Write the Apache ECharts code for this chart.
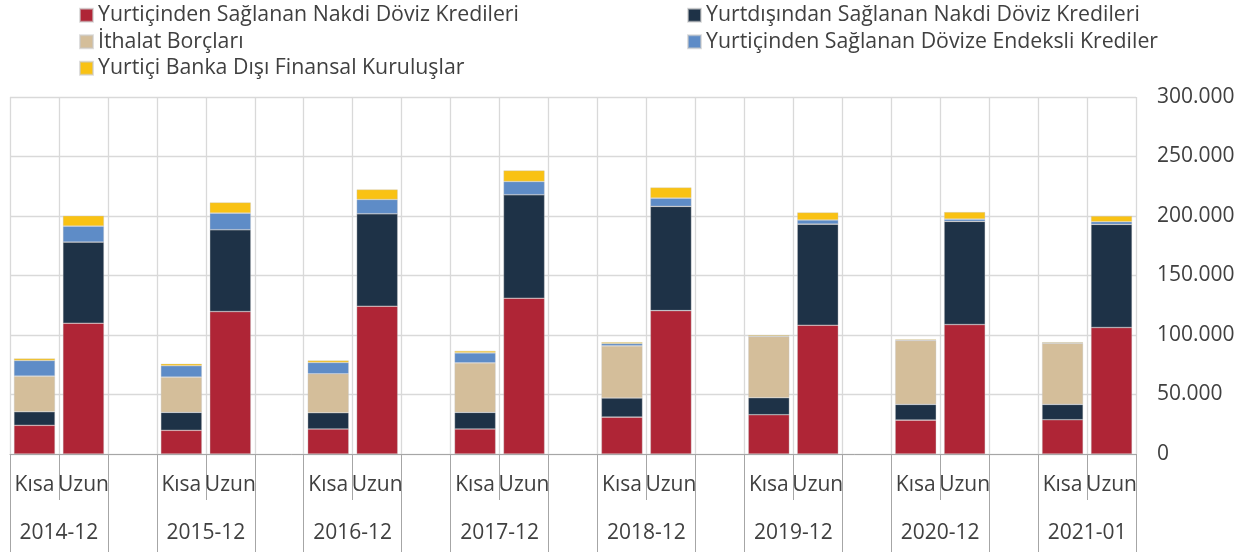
<!DOCTYPE html>
<html>
<head>
<meta charset="utf-8">
<script src="https://cdn.jsdelivr.net/npm/echarts@6/dist/echarts.min.js"></script>
<style>
  html, body { margin: 0; padding: 0; background: #fff; }
  #main { width: 1251px; height: 552px; }
</style>
</head>
<body>
<div id="main"></div>
<script>
// dönemler ve vade kırılımı
var years = ["2014-12", "2015-12", "2016-12", "2017-12", "2018-12", "2019-12", "2020-12", "2021-01"];
var vadeler = ["Kısa", "Uzun"];

// milyon USD, Kısa / Uzun
var yurticiNakdiKisa = [24.1, 19.9, 21.0, 21.0, 31.0, 33.0, 28.5, 28.8];
var yurticiNakdiUzun = [109.9, 119.7, 124.2, 130.9, 120.5, 108.2, 108.8, 106.3];
var yurtdisiNakdiKisa = [11.4, 15.1, 13.7, 14.0, 16.0, 14.3, 13.2, 12.9];
var yurtdisiNakdiUzun = [68.2, 68.8, 77.7, 87.0, 87.6, 85.0, 86.7, 86.7];
var ithalatKisa = [29.9, 29.6, 32.7, 41.6, 43.9, 51.4, 53.7, 51.4];
var ithalatUzun = [0, 0, 0, 0, 0, 0, 0, 0];
var endeksliKisa = [13.2, 9.5, 9.5, 8.4, 1.9, 0.3, 0.2, 0.2];
var endeksliUzun = [13.4, 13.9, 12.0, 11.1, 6.9, 3.4, 1.9, 2.2];
var bankaDisiKisa = [1.7, 1.7, 1.7, 1.7, 1.2, 0.8, 0.6, 0.7];
var bankaDisiUzun = [8.7, 9.0, 8.4, 9.3, 9.0, 6.4, 5.9, 4.8];

var seriesNames = [
    "Yurtiçinden Sağlanan Nakdi Döviz Kredileri",
    "Yurtdışından Sağlanan Nakdi Döviz Kredileri",
    "İthalat Borçları",
    "Yurtiçinden Sağlanan Dövize Endeksli Krediler",
    "Yurtiçi Banka Dışı Finansal Kuruluşlar"
];
var colors = ["#AF2536", "#1E3247", "#D4BE9A", "#5E8CC7", "#F9C214"];

var fontFamily = "Open Sans";
var textColor = "#404040";

// kategori ekseni: Kısa, Uzun, boşluk, ...
var cats = [];
years.forEach(function (y, i) {
    cats.push(vadeler[0], vadeler[1]);
    if (i < years.length - 1) cats.push("");
});

// alt seviye (yıllar) için yarım kategori noktaları
var yearPoints = [];
for (var i = 0; i <= cats.length * 2; i++) {
    yearPoints.push(i % 6 === 2 ? years[Math.floor(i / 6)] : "");
}

function build(kisa, uzun) {
    var out = [];
    years.forEach(function (y, i) {
        out.push(Math.round(kisa[i] * 1000), Math.round(uzun[i] * 1000));
        if (i < years.length - 1) out.push("-");
    });
    return out;
}

var seriesData = [
    build(yurticiNakdiKisa, yurticiNakdiUzun),
    build(yurtdisiNakdiKisa, yurtdisiNakdiUzun),
    build(ithalatKisa, ithalatUzun),
    build(endeksliKisa, endeksliUzun),
    build(bankaDisiKisa, bankaDisiUzun)
];

function fmt(v) {
    return String(v).replace(/\B(?=(\d{3})+(?!\d))/g, ".");
}

var chart = echarts.init(document.getElementById("main"));

var legendBase = {
    orient: "vertical",
    top: 2,
    padding: 0,
    itemGap: 0,
    itemWidth: 13,
    itemHeight: 13,
    icon: "rect",
    textStyle: { fontFamily: fontFamily, fontSize: 21.3, color: textColor, lineHeight: 26.5 }
};

var option = {
    animation: false,
    color: colors,
    textStyle: { fontFamily: fontFamily },
    legend: [
        Object.assign({}, legendBase, { left: 79, data: [seriesNames[0], seriesNames[2], seriesNames[4]] }),
        Object.assign({}, legendBase, { left: 687, data: [seriesNames[1], seriesNames[3]] })
    ],
    grid: { left: 10, right: 115, top: 97, bottom: 98, containLabel: false },
    xAxis: [
        {
            type: "category",
            data: cats,
            position: "bottom",
            axisLine: { lineStyle: { color: "#a6a6a6", width: 1 } },
            axisTick: { show: true, interval: 0, length: 46, lineStyle: { color: "#a6a6a6" } },
            axisLabel: { interval: 0, margin: 21, fontSize: 21, color: textColor, fontFamily: fontFamily },
            splitLine: { show: true, interval: 0, lineStyle: { color: "#d9d9d9", width: 1.3 } }
        },
        {
            type: "category",
            data: yearPoints,
            position: "bottom",
            boundaryGap: false,
            axisLine: { show: false },
            axisTick: {
                show: true,
                length: 98,
                interval: function (idx) { return idx % 6 === 0 || idx % 6 === 4; },
                lineStyle: { color: "#a6a6a6" }
            },
            axisLabel: {
                interval: function (idx) { return idx % 6 === 2; },
                margin: 69, fontSize: 21, color: textColor, fontFamily: fontFamily
            },
            splitLine: { show: false }
        }
    ],
    yAxis: {
        type: "value",
        position: "right",
        min: 0,
        max: 300000,
        interval: 50000,
        axisLine: { show: false },
        axisTick: { show: false },
        axisLabel: { margin: 21, fontSize: 21, color: textColor, fontFamily: fontFamily, formatter: fmt },
        splitLine: { lineStyle: { color: "#d9d9d9", width: 1.3 } }
    },
    series: seriesNames.map(function (name, k) {
        return {
            name: name,
            type: "bar",
            stack: "toplam",
            xAxisIndex: 0,
            barWidth: "84%",
            itemStyle: { color: colors[k], borderColor: "rgba(200,200,200,0.6)", borderWidth: 0.6 },
            data: seriesData[k]
        };
    })
};

chart.setOption(option);
</script>
</body>
</html>
